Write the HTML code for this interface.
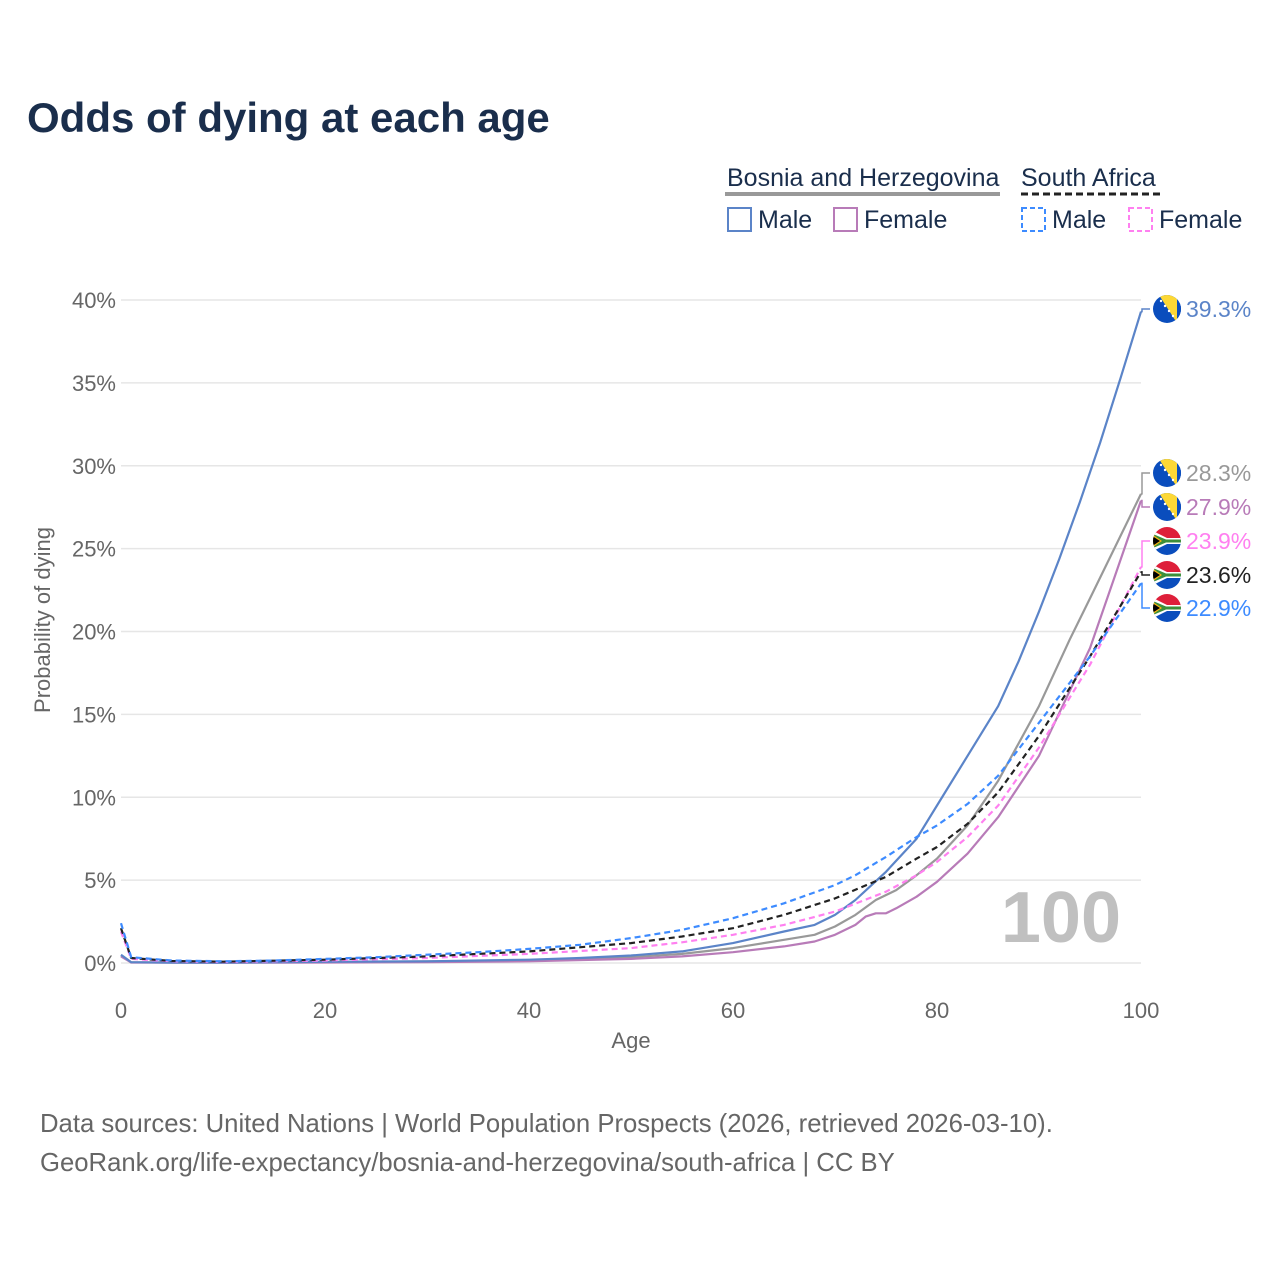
<!DOCTYPE html>
<html><head><meta charset="utf-8"><style>
body{margin:0;background:#fff;font-family:"Liberation Sans",sans-serif}
svg text{font-family:"Liberation Sans",sans-serif}
</style></head><body>
<svg id="chart" width="1280" height="1280" viewBox="0 0 1280 1280">
<defs>
<clipPath id="cc"><circle cx="0" cy="0" r="14"/></clipPath>
<g id="flag-ba">
<g clip-path="url(#cc)"><rect x="-14" y="-14" width="28" height="28" fill="#0a4dbd"/><polygon points="-8,-14 10,-14 10,14" fill="#fdd835"/>
<circle cx="-6" cy="-8" r="1.2" fill="#fff"/><circle cx="-2" cy="-3" r="1.2" fill="#fff"/><circle cx="2" cy="2" r="1.2" fill="#fff"/><circle cx="6" cy="7" r="1.2" fill="#fff"/><rect x="10" y="-14" width="4" height="28" fill="#0a4dbd"/></g></g>
<g id="flag-za">
<g clip-path="url(#cc)"><rect x="-14" y="-14" width="28" height="14" fill="#de1f3a"/><rect x="-14" y="0" width="28" height="14" fill="#0a4dbd"/>
<polygon points="-14,-10 0,-3 14,-3 14,3 0,3 -14,10" fill="#fff"/><polygon points="-14,-7 -1,-1.5 14,-1.5 14,1.5 -1,1.5 -14,7" fill="#3c8f3a"/><polygon points="-14,-6 -5,0 -14,6" fill="#fcb514"/><polygon points="-14,-4.5 -7,0 -14,4.5" fill="#000"/></g></g>
</defs>
<text x="27" y="132" font-size="42" font-weight="bold" fill="#1a2e4c">Odds of dying at each age</text>
<g font-size="25" fill="#1a2e4c">
<text x="727" y="186" fill="#1a2e4c">Bosnia and Herzegovina</text>
<line x1="725" y1="194" x2="1000" y2="194" stroke="#999" stroke-width="4"/>
<text x="1021" y="186" fill="#1a2e4c">South Africa</text>
<line x1="1021" y1="194" x2="1162" y2="194" stroke="#222" stroke-width="3" stroke-dasharray="7,4"/>
<rect x="728" y="208" width="23" height="23" fill="none" stroke="#5b84c8" stroke-width="2"/><text x="758" y="228">Male</text>
<rect x="834" y="208" width="23" height="23" fill="none" stroke="#b87bb8" stroke-width="2"/><text x="864" y="228">Female</text>
<rect x="1022" y="208" width="23" height="23" fill="none" stroke="#3d8bff" stroke-width="2" stroke-dasharray="5,3"/><text x="1052" y="228">Male</text>
<rect x="1129" y="208" width="23" height="23" fill="none" stroke="#ff80f0" stroke-width="2" stroke-dasharray="5,3"/><text x="1159" y="228">Female</text>
</g>
<g id="grid"></g>
<g id="series"></g>
<text x="1121" y="942" font-size="72" font-weight="bold" fill="#c0c0c0" text-anchor="end">100</text>
<g id="labels"></g>
<text x="631" y="1048" font-size="22" fill="#666" text-anchor="middle">Age</text>
<text transform="translate(50,620) rotate(-90)" font-size="22" fill="#666" text-anchor="middle">Probability of dying</text>
<text x="40" y="1132" font-size="25.7" fill="#666">Data sources: United Nations | World Population Prospects (2026, retrieved 2026-03-10).</text>
<text x="40" y="1171" font-size="25.7" fill="#666">GeoRank.org/life-expectancy/bosnia-and-herzegovina/south-africa | CC BY</text>
</svg>
<script>
const yTicks=[0,5,10,15,20,25,30,35,40];
const xTicks=[0,20,40,60,80,100];
const baMaleAges=[0,1,5,10,20,30,40,45,50,55,60,65,68,70,72,75,78,80,83,86,88,90,92,94,96,98,100];
const baMale=[0.5,0.05,0.02,0.02,0.07,0.1,0.2,0.3,0.45,0.7,1.2,1.9,2.3,2.9,3.8,5.5,7.5,9.5,12.5,15.5,18.2,21.2,24.4,27.8,31.4,35.3,39.3];
const baFemaleAges=[0,1,10,20,30,40,50,55,60,65,68,70,72,73,74,75,76,78,80,83,86,90,95,100];
const baFemale=[0.4,0.03,0.01,0.03,0.05,0.1,0.25,0.4,0.65,1.0,1.3,1.7,2.3,2.8,3.0,3.0,3.3,4.0,4.9,6.6,8.8,12.5,19,27.9];
const baTotalAges=[0,1,20,40,50,55,60,65,68,70,72,74,76,78,80,83,86,90,93,95,100];
const baTotal=[0.45,0.04,0.05,0.15,0.35,0.55,0.9,1.4,1.7,2.2,2.9,3.8,4.4,5.3,6.3,8.3,11,15.5,19.5,22,28.3];
const zaMaleAges=[0,1,5,10,15,20,25,30,35,40,45,50,55,60,65,70,72,75,78,80,83,86,90,95,100];
const zaMale=[2.4,0.35,0.15,0.1,0.15,0.25,0.35,0.5,0.65,0.85,1.1,1.5,2.0,2.7,3.6,4.7,5.3,6.4,7.6,8.3,9.6,11.3,14.5,18.5,22.9];
const zaTotalAges=[0,1,5,10,20,30,40,50,55,60,65,70,75,78,80,83,86,90,95,100];
const zaTotal=[2.1,0.3,0.12,0.08,0.2,0.4,0.7,1.2,1.6,2.1,2.9,3.9,5.2,6.3,7.0,8.4,10.3,13.7,18.5,23.6];
const zaFemaleAges=[0,1,5,10,20,30,40,50,55,60,65,70,75,78,80,83,86,90,95,100];
const zaFemale=[1.9,0.25,0.1,0.06,0.15,0.3,0.55,0.9,1.25,1.7,2.3,3.1,4.3,5.3,6.1,7.6,9.5,13,18,23.9];
const NS='http://www.w3.org/2000/svg';
const X=a=>121+a*10.2, Y=v=>963-v*16.575;
function mk(t,at,p){const e=document.createElementNS(NS,t);for(const k in at)e.setAttribute(k,at[k]);p.appendChild(e);return e;}
const grid=document.getElementById('grid');
yTicks.forEach(t=>{
 const l=mk('line',{x1:121,x2:1141,y1:Y(t),y2:Y(t),stroke:'#e6e6e6','stroke-width':1.5},grid);
 
 
 const tx=mk('text',{x:116,y:Y(t)+8,'font-size':22,fill:'#666','text-anchor':'end'},grid);tx.textContent=t+'%';
 
 
});
xTicks.forEach(t=>{
 const tx=mk('text',{x:X(t),y:1018,'font-size':22,fill:'#666','text-anchor':'middle'},grid);tx.textContent=t;
 
 
});
const S=[
 {n:'ba-total',a:baTotalAges,v:baTotal,c:'#999',d:null,w:2.2,ly:473,flag:'ba'},
 {n:'ba-female',a:baFemaleAges,v:baFemale,c:'#b87bb8',d:null,w:2.2,ly:507,flag:'ba'},
 {n:'ba-male',a:baMaleAges,v:baMale,c:'#5b84c8',d:null,w:2.2,ly:309,flag:'ba'},
 {n:'za-female',a:zaFemaleAges,v:zaFemale,c:'#ff80f0',d:'6,4',w:2.2,ly:541,flag:'za'},
 {n:'za-total',a:zaTotalAges,v:zaTotal,c:'#222',d:'6,4',w:2.2,ly:575,flag:'za'},
 {n:'za-male',a:zaMaleAges,v:zaMale,c:'#3d8bff',d:'6,4',w:2.2,ly:608,flag:'za'}
];
const sg=document.getElementById('series'), lg=document.getElementById('labels');
S.forEach(s=>{
 const pts=s.a.map((a,i)=>X(a).toFixed(1)+','+Y(s.v[i]).toFixed(1)).join(' ');
 const at={points:pts,fill:'none',stroke:s.c,'stroke-width':s.w,'stroke-linejoin':'round'};
 if(s.d)at['stroke-dasharray']=s.d;
 const p=mk('polyline',at,sg);
 
 
 const last=s.v[s.v.length-1];
 const c=mk('polyline',{points:`${X(100)},${Y(last)} 1142,${Y(last)} 1142,${s.ly} 1150,${s.ly}`,fill:'none',stroke:s.c,'stroke-width':1.5},lg);
 
 
 const f=mk('use',{href:'#flag-'+s.flag,x:1167,y:s.ly},lg);
 
 
 const t=mk('text',{x:1186,y:s.ly+8,'font-size':23,fill:s.c},lg);t.textContent=last.toFixed(1)+'%';
 
 
});
</script>
</body></html>
